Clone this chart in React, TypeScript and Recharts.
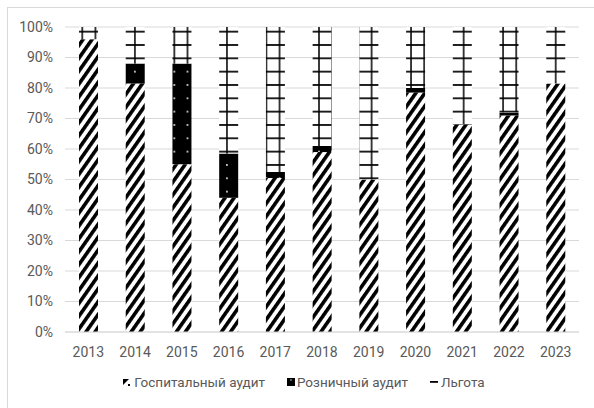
import React from 'react';
import { BarChart, Bar, XAxis, YAxis, CartesianGrid } from 'recharts';

const years = ['2013', '2014', '2015', '2016', '2017', '2018', '2019', '2020', '2021', '2022', '2023'];
const hospitalAudit = [96, 81.5, 55, 44, 50.5, 59, 50, 78.5, 68, 71, 81.5];
const retailAudit = [0, 6.5, 33, 14.5, 2, 2, 0, 1.5, 0, 1, 0];
const benefit = [4, 12, 12, 41.5, 47.5, 39, 50, 20, 32, 28, 18.5];
const yTicks = [0, 10, 20, 30, 40, 50, 60, 70, 80, 90, 100];

const seriesNames = ['Госпитальный аудит', 'Розничный аудит', 'Льгота'];

const data = years.map((year, i) => ({
  year,
  hospital: hospitalAudit[i],
  retail: retailAudit[i],
  benefit: benefit[i],
}));

const textColor = '#595959';

// grid tile: vertical lines every 13.15px, horizontal every 13.33px
const Patterns = () => (
  <svg width={0} height={0} style={{ position: 'absolute' }}>
    <defs>
      <pattern id="pHatch" patternUnits="userSpaceOnUse" width={7.4} height={10} patternTransform="rotate(35)">
        <rect width={7.4} height={10} fill="#fff" />
        <rect width={3.6} height={10} fill="#000" />
      </pattern>
      <pattern id="pDots" patternUnits="userSpaceOnUse" width={13.15} height={13.33} x={-3.175} y={-1.67}>
        <rect width={13.15} height={13.33} fill="#000" />
        <circle cx={6.575} cy={6.67} r={0.9} fill="#fff" />
      </pattern>
      <pattern id="pGrid" patternUnits="userSpaceOnUse" width={13.15} height={13.33} x={-3.175} y={-1.67}>
        <rect width={13.15} height={13.33} fill="#fff" />
        <line x1={6.575} y1={0} x2={6.575} y2={13.33} stroke="#000" strokeWidth={1.5} />
        <line x1={0} y1={6.67} x2={13.15} y2={6.67} stroke="#000" strokeWidth={1.7} />
      </pattern>
    </defs>
  </svg>
);

const LegendIcon = ({ kind }: { kind: number }) => {
  if (kind === 0) {
    return (
      <svg width={8} height={8} style={{ marginRight: 3 }}>
        <polygon points="0,1 6,1 0,7" fill="#000" />
        <rect x={5} y={6} width={2} height={2} fill="#000" />
      </svg>
    );
  }
  if (kind === 1) {
    return (
      <svg width={8} height={8} style={{ marginRight: 2 }}>
        <rect x={0} y={0} width={8} height={8} fill="#000" />
        <circle cx={4} cy={2} r={0.7} fill="#fff" />
      </svg>
    );
  }
  return (
    <svg width={8} height={8} style={{ marginRight: 3 }}>
      <rect x={0} y={3} width={8} height={1.8} fill="#000" />
    </svg>
  );
};

const ChartLegend = () => (
  <div style={{ position: 'absolute', left: 7, top: 374, width: 594, display: 'flex', justifyContent: 'center', alignItems: 'center', fontFamily: 'Roboto', fontSize: 13.5, color: textColor }}>
    {seriesNames.map((name, i) => (
      <div key={name} style={{ display: 'flex', alignItems: 'center', marginRight: i < 2 ? 22 : 0 }}>
        <LegendIcon kind={i} />
        <span>{name}</span>
      </div>
    ))}
  </div>
);

export default function App() {
  return (
    <div style={{ position: 'absolute', left: 0, top: 0, width: 594, height: 408, background: '#fff', overflow: 'hidden', fontFamily: 'Roboto' }}>
      <Patterns />
      <div style={{ position: 'absolute', left: 7, top: 7, width: 620, height: 440, border: '1px solid #d9d9d9' }} />
      <div style={{ position: 'absolute', left: 0, top: 0 }}>
        <BarChart width={594} height={408} data={data} margin={{ top: 27, right: 15, left: 5, bottom: 46 }} barSize={19}>
          <CartesianGrid vertical={false} stroke="#d9d9d9" strokeWidth={1} />
          <XAxis
            dataKey="year"
            axisLine={{ stroke: '#d9d9d9' }}
            tickLine={false}
            tickSize={0}
            tickMargin={15}
            height={30}
            tick={{ fill: textColor, fontSize: 14, fontFamily: 'Roboto' }}
          />
          <YAxis
            domain={[0, 100]}
            ticks={yTicks}
            tickFormatter={(v: number) => `${v}%`}
            axisLine={false}
            tickLine={false}
            tickSize={0}
            tickMargin={12}
            width={60}
            tick={{ fill: textColor, fontSize: 14, fontFamily: 'Roboto' }}
          />
          <Bar dataKey="hospital" name={seriesNames[0]} stackId="a" fill="url(#pHatch)" isAnimationActive={false} />
          <Bar dataKey="retail" name={seriesNames[1]} stackId="a" fill="url(#pDots)" isAnimationActive={false} />
          <Bar dataKey="benefit" name={seriesNames[2]} stackId="a" fill="url(#pGrid)" isAnimationActive={false} />
        </BarChart>
      </div>
      <ChartLegend />
    </div>
  );
}
